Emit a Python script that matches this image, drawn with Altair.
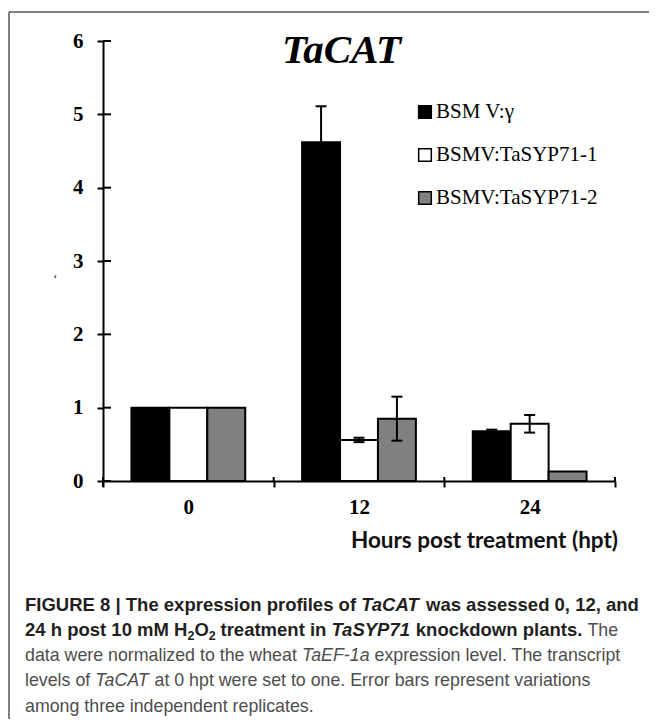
import altair as alt
import pandas as pd

# ---------------- data ----------------
times = ["0", "12", "24"]
series = ["BSMV:γ", "BSMV:TaSYP71-1", "BSMV:TaSYP71-2"]
legend_labels = ["BSM V:γ", "BSMV:TaSYP71-1", "BSMV:TaSYP71-2"]
values_0 = [1.0, 1.0, 1.0]
values_12 = [4.62, 0.56, 0.85]
values_24 = [0.68, 0.78, 0.13]
err_0 = [0.0, 0.0, 0.0]
err_12 = [0.49, 0.03, 0.30]
err_24 = [0.02, 0.12, 0.0]
y_ticks = [0, 1, 2, 3, 4, 5, 6]
fills = ["#000000", "#ffffff", "#808080"]

rows = []
for t, vals, errs in zip(times, [values_0, values_12, values_24], [err_0, err_12, err_24]):
    for s, v, e in zip(series, vals, errs):
        rows.append({"time": t, "series": s, "value": v, "err": e, "lo": v - e, "hi": v + e})
df = pd.DataFrame(rows)
df_err = df[df["err"] > 0]
legend_df = pd.DataFrame({"series": series, "label": legend_labels})
ticks_df = pd.DataFrame({"t": y_ticks})
times_df = pd.DataFrame({"time": times})
one = pd.DataFrame({"a": [0]})

# ---------------- layout ----------------
PAD_L, PAD_T, PAD_R, PAD_B = 95, 33, 34, 238
W, H = 512, 440
OX, OY = 8 + PAD_L, 8 + PAD_T

y_scale = alt.Scale(domain=[0, 6], nice=False, zero=True)
color_enc = alt.Color("series:N", sort=series,
                      scale=alt.Scale(domain=series, range=fills), legend=None)
x_axis = alt.Axis(title=None, tickBand="extent", labelAngle=0,
                  labelFont="Liberation Serif", labelFontWeight="bold",
                  labelFontSize=21, labelColor="black", labelPadding=9,
                  tickSize=6, tickWidth=2, tickColor="black",
                  domainColor="black", domainWidth=2)
x_scale = alt.Scale(domain=times, paddingInner=0, paddingOuter=0)
x_enc = alt.X("time:N", sort=times, scale=x_scale, axis=x_axis)
xo_enc = alt.XOffset("series:N", sort=series,
                     scale=alt.Scale(domain=series, paddingInner=0, paddingOuter=0.75))

y_axis = alt.Axis(values=y_ticks, title=None, grid=False,
                  labelFont="Liberation Serif", labelFontWeight="bold",
                  labelFontSize=21, labelColor="black", labelPadding=14,
                  tickSize=6, tickWidth=2, tickColor="black",
                  domainColor="black", domainWidth=2)

bars = alt.Chart(df).mark_bar(stroke="black", strokeWidth=2).encode(
    x=x_enc, xOffset=xo_enc,
    y=alt.Y("value:Q", scale=y_scale, axis=y_axis),
    color=color_enc,
)

err_rule = alt.Chart(df_err).mark_rule(color="black", strokeWidth=2).encode(
    x=x_enc, xOffset=xo_enc,
    y=alt.Y("lo:Q", scale=y_scale, axis=None), y2="hi:Q",
)
cap_hi = alt.Chart(df_err).mark_tick(color="black", thickness=2, size=11, opacity=1).encode(
    x=x_enc, xOffset=xo_enc,
    y=alt.Y("hi:Q", scale=y_scale, axis=None),
)
cap_lo = alt.Chart(df_err).mark_tick(color="black", thickness=2, size=11, opacity=1).encode(
    x=x_enc, xOffset=xo_enc,
    y=alt.Y("lo:Q", scale=y_scale, axis=None),
)

# inner halves of the crossing ticks
inner_yticks = alt.Chart(ticks_df).mark_rule(color="black", strokeWidth=2).encode(
    x=alt.value(0), x2=alt.value(8),
    y=alt.Y("t:Q", scale=y_scale, axis=None),
)
inner_xticks = alt.Chart(times_df).mark_rule(color="black", strokeWidth=2).encode(
    x=alt.X("time:N", sort=times, scale=x_scale, axis=x_axis, bandPosition=0),
    y=alt.value(H - 4), y2=alt.value(H),
)
inner_xtick_end = alt.Chart(one).mark_rule(color="black", strokeWidth=2).encode(
    x=alt.value(W), y=alt.value(H - 4), y2=alt.value(H),
)
yaxis_ext = alt.Chart(one).mark_rule(color="black", strokeWidth=2).encode(
    x=alt.value(0), y=alt.value(H), y2=alt.value(H + 6),
)

leg_y = alt.Y("series:N", sort=series,
              scale=alt.Scale(domain=series, range=[71, 157], padding=0), axis=None)
leg_sq = alt.Chart(legend_df).mark_square(size=160, stroke="black", strokeWidth=1.5,
                                          opacity=1, filled=True).encode(
    x=alt.value(322), y=leg_y, color=color_enc,
)
leg_tx = alt.Chart(legend_df).mark_text(align="left", baseline="middle",
                                        font="Liberation Serif", fontSize=21,
                                        color="black").encode(
    x=alt.value(333), y=leg_y, text="label:N",
)


def txt(s, x, y, size, font="Liberation Sans", weight="normal", style="normal",
        color="black", align="left", baseline="alphabetic"):
    return alt.Chart(one).mark_text(
        text=s, fontSize=size, font=font, fontWeight=weight, fontStyle=style,
        color=color, align=align, baseline=baseline,
    ).encode(x=alt.value(x - OX), y=alt.value(y - OY))


BOLD_C = "#231f20"
REG_C = "#4d4d4d"
BS, RS = 18.5, 17.8

texts = [
    txt("TaCAT", 341.5, 63, 41, font="Liberation Serif", weight="bold", style="italic",
        align="center"),
    txt("Hours post treatment (hpt)", 618, 548, 22.5, font="Lato", weight="bold",
        align="right", color="#111111"),
    txt("\u2018", 53, 284, 14, font="Liberation Serif", color="#333333"),
    # caption line 1
    txt("FIGURE 8 | The expression profiles of", 25, 611, BS, weight="bold", color=BOLD_C),
    txt("TaCAT", 361.2, 611, BS, weight="bold", style="italic", color=BOLD_C),
    txt("was assessed 0, 12, and", 426, 611, BS, weight="bold", color=BOLD_C),
    # caption line 2
    txt("24 h post 10 mM H", 25, 636, BS, weight="bold", color=BOLD_C),
    txt("2", 187.4, 640, 12.5, weight="bold", color=BOLD_C),
    txt("O", 194.4, 636, BS, weight="bold", color=BOLD_C),
    txt("2", 208.8, 640, 12.5, weight="bold", color=BOLD_C),
    txt("treatment in", 220.5, 636, BS, weight="bold", color=BOLD_C),
    txt("TaSYP71", 331.5, 636, BS, weight="bold", style="italic", color=BOLD_C),
    txt("knockdown plants.", 415.8, 636, BS, weight="bold", color=BOLD_C),
    txt("The", 587.5, 636, RS, color=REG_C),
    # caption line 3
    txt("data were normalized to the wheat", 25, 661, RS, color=REG_C),
    txt("TaEF-1a", 302, 661, RS, style="italic", color=REG_C),
    txt("expression level. The transcript", 374.5, 661, RS, color=REG_C),
    # caption line 4
    txt("levels of", 25, 686, RS, color=REG_C),
    txt("TaCAT", 95.3, 686, RS, style="italic", color=REG_C),
    txt("at 0 hpt were set to one. Error bars represent variations", 154.5, 686, RS,
        color=REG_C),
    # caption line 5
    txt("among three independent replicates.", 25, 712, RS, color=REG_C),
]

frame_top = alt.Chart(one).mark_rule(color="#555555", strokeWidth=1.5).encode(
    x=alt.value(9 - OX), x2=alt.value(W + PAD_R), y=alt.value(12 - OY))
frame_left = alt.Chart(one).mark_rule(color="#555555", strokeWidth=1.5).encode(
    x=alt.value(9 - OX), y=alt.value(12 - OY), y2=alt.value(H + PAD_B))

chart = alt.layer(
    frame_top, frame_left, bars, err_rule, cap_hi, cap_lo,
    inner_yticks, inner_xticks, inner_xtick_end, yaxis_ext,
    leg_sq, leg_tx, *texts,
).resolve_scale(y="independent").properties(
    width=W, height=H,
    padding={"left": PAD_L, "top": PAD_T, "right": PAD_R, "bottom": PAD_B},
    autosize=alt.AutoSizeParams(type="none"),
    background="white",
).configure_view(stroke=None)

chart.save("out.html", embed_options={"renderer": "svg", "actions": False})
